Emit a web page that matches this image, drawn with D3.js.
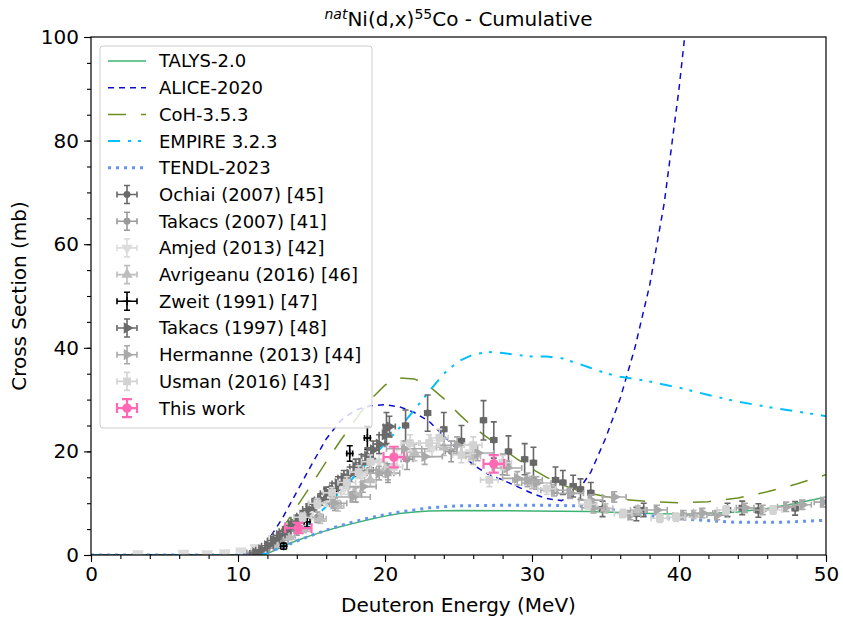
<!DOCTYPE html>
<html>
<head>
<meta charset="utf-8">
<script src="https://cdn.jsdelivr.net/npm/d3@7"></script>
<style>
  body { margin: 0; background: #fff; }
  svg { font-family: "DejaVu Sans", sans-serif; }
</style>
</head>
<body>
<svg id="chart"></svg>
<script>
// model curves: [energy (MeV), cross section (mb)]
var talys = [[0,0],[11,0],[12,0.3],[12.5,0.9],[13,1.6],[14,2.8],[15,3.8],[16,4.7],[17,5.5],[18,6.2],[19,6.9],[20,7.5],[21,8.0],[22,8.3],[23,8.5],[25,8.6],[30,8.5],[34,8.4],[36,8.2],[38,8.0],[40,7.9],[42,8.0],[44,8.3],[46,9.0],[48,10.0],[50,11.2]];
var alice = [[0,0],[10,0],[11,0.6],[12,2.6],[13,7.0],[14,12.2],[15,17.4],[16,22.4],[17,26.0],[18,28.0],[19,28.8],[20,29.0],[21,28.6],[22,27.5],[23,25.8],[24,23.0],[25,20.2],[26,17.4],[27,15.6],[28,14.5],[29,13.2],[30,11.9],[31,10.9],[32,10.5],[33,11.8],[34,16.0],[35,22.5],[36,30.2],[37,40.0],[38,52.0],[39,68.0],[40,90.0],[41,116.0]];
var coh = [[0,0],[11,0],[11.5,0.5],[12,1.6],[13,5.0],[14,9.3],[15,13.6],[16,18.0],[17,22.2],[18,26.2],[19,30.0],[20,32.8],[21,34.2],[22,34.0],[23,32.6],[24,30.2],[25,27.3],[26,24.7],[27,22.6],[28,20.5],[29,18.5],[30,16.6],[31,15.0],[32,13.6],[33,12.6],[34,11.9],[35,11.3],[36,10.8],[38,10.3],[40,10.1],[42,10.3],[44,11.0],[46,12.2],[48,13.7],[50,15.5]];
var empire = [[0,0],[11,0],[12,0.3],[13,1.8],[14,4.0],[15,6.5],[16,9.4],[17,12.4],[18,15.4],[19,18.4],[20,21.5],[21,24.6],[22,28.0],[23,31.6],[24,35.0],[25,37.4],[26,38.7],[27,39.2],[28,39.0],[29,38.6],[30,38.3],[31,38.3],[32,38.0],[33,37.1],[34,36.1],[35,35.1],[36,34.4],[38,33.5],[40,32.3],[42,30.9],[44,29.6],[46,28.6],[48,27.7],[50,26.8]];
var tendl = [[0,0],[10,0],[11,0.1],[12,0.5],[13,1.5],[14,2.7],[15,3.8],[16,4.8],[17,5.7],[18,6.5],[19,7.2],[20,7.8],[21,8.3],[22,8.7],[23,9.1],[25,9.5],[28,9.6],[31,9.6],[33,9.5],[35,9.0],[37,8.0],[39,7.2],[41,6.8],[44,6.3],[47,6.3],[50,6.7]];

// measurements: [energy, cross section, energy error, cross section error]
var ochiai = [[19.0,16.4,0.2,2.2],[20.1,24.5,0.2,3.0],[21.4,25.0,0.2,3.0],[22.9,27.4,0.2,3.5],[24.0,24.3,0.2,3.2],[25.2,22.0,0.2,3.0],[26.7,26.0,0.2,3.8],[27.4,22.2,0.2,3.5],[28.4,20.0,0.2,3.0],[29.5,18.5,0.2,3.0],[30.1,17.8,0.2,3.0],[31.6,14.5,0.2,2.5],[32.1,14.0,0.2,2.3],[32.8,13.3,0.2,2.1],[33.3,12.7,0.2,2.0],[34.0,12.0,0.2,2.0],[34.8,8.9,0.2,1.5],[37.1,7.9,0.2,1.3],[37.6,8.7,0.2,1.3],[43.3,8.7,0.2,1.3],[44.3,9.1,0.2,1.3],[45.4,8.6,0.2,1.3],[47.9,9.0,0.2,1.3]];
var takacs2007 = [[11.0,0.5,0.4,0.3],[12.0,1.3,0.4,0.4],[13.0,2.9,0.4,0.6],[14.0,4.6,0.4,0.8],[15.4,7.3,0.4,1.0],[16.6,9.8,0.4,1.2],[18.0,11.6,0.4,1.4],[19.0,16.4,0.4,1.8],[20.2,15.8,0.4,1.8],[21.5,18.5,0.4,2.0],[24.5,20.0,0.4,2.0],[28.0,17.5,0.5,2.0]];
var amjed = [[3.2,0.3,0.3,0.1],[6.3,0.4,0.3,0.1],[7.9,0.3,0.3,0.1],[9.1,0.5,0.3,0.1],[10.2,0.8,0.3,0.2],[11.2,1.5,0.3,0.3],[12.4,3.2,0.3,0.4],[13.6,5.6,0.3,0.6],[14.8,8.0,0.3,0.8],[16.0,10.4,0.3,1.0],[17.2,12.8,0.3,1.1],[18.4,15.4,0.3,1.3],[19.6,18.0,0.3,1.5],[20.8,18.8,0.3,1.5],[23.2,20.5,0.3,1.6],[25.8,19.8,0.3,1.6]];
var avrigeanu = [[12.5,2.0,0.4,0.5],[13.5,3.5,0.4,0.6],[14.5,5.0,0.4,0.7],[15.6,7.0,0.4,0.9],[16.8,9.5,0.4,1.0],[17.9,12.0,0.4,1.1],[19.0,14.5,0.4,1.3],[20.0,16.5,0.4,1.4],[22.0,19.8,0.5,1.6],[24.0,20.8,0.5,1.6],[26.0,19.0,0.5,1.5],[30.0,14.0,0.5,1.2],[35.0,9.0,0.5,0.9],[37.2,8.7,0.5,0.8],[41.0,7.8,0.5,0.8]];
var zweit = [[13.1,1.7,0.2,0.6],[14.7,6.4,0.2,1.0],[16.3,12.3,0.4,0.8],[17.6,19.6,0.2,1.5],[18.8,22.6,0.2,2.2]];
var takacs1997 = [[11.2,0.4,0.4,0.3],[11.6,1.0,0.4,0.4],[12.0,1.8,0.4,0.5],[12.4,2.8,0.4,0.6],[12.8,3.8,0.4,0.7],[13.2,4.6,0.4,0.7],[13.6,5.7,0.4,0.8],[14.0,6.8,0.4,0.9],[14.4,7.6,0.4,1.0],[14.8,8.9,0.4,1.0],[15.2,9.8,0.4,1.1],[15.6,10.7,0.4,1.1],[16.0,11.9,0.4,1.2],[16.4,12.6,0.4,1.3],[16.8,13.8,0.4,1.3],[17.2,14.9,0.4,1.4],[17.6,15.6,0.4,1.4],[18.0,17.0,0.4,1.5],[18.4,17.8,0.4,1.6],[18.8,19.1,0.4,1.6],[19.2,20.3,0.4,1.7],[19.6,21.4,0.4,1.8],[20.0,23.2,0.4,1.9],[20.3,24.8,0.4,2.0]];
var hermanne = [[16.5,10.0,0.9,1.0],[17.8,11.2,1.2,1.0],[18.5,13.2,0.9,1.1],[19.6,15.8,0.8,1.3],[20.2,15.8,0.8,1.3],[21.3,20.5,1.2,1.5],[22.7,19.0,1.2,1.5],[24.9,21.2,1.2,1.6],[26.3,19.7,1.1,1.5],[28.3,16.8,1.0,1.4],[29.0,14.8,1.0,1.3],[29.7,14.5,1.0,1.3],[30.3,13.9,1.0,1.2],[31.5,12.5,0.9,1.1],[32.6,11.9,0.9,1.0],[34.0,10.6,0.8,1.0],[34.2,9.1,0.8,1.0],[35.6,11.2,0.8,1.0],[36.7,7.7,0.7,0.9],[38.5,8.7,0.7,0.9],[40.3,7.7,0.7,0.9],[41.6,8.1,0.7,0.9],[42.6,7.7,0.7,0.9],[44.5,9.1,0.6,0.9],[45.7,8.7,0.6,0.9],[47.3,9.3,0.6,0.9],[48.4,9.7,0.6,0.9],[49.8,10.2,0.6,0.9]];
var usman = [[14.4,7.3,0.6,0.8],[15.4,10.0,0.6,0.9],[16.4,12.0,0.6,1.0],[17.4,14.0,0.6,1.1],[18.2,16.0,0.6,1.2],[19.0,18.0,0.6,1.3],[20.6,17.0,0.6,1.4],[21.7,21.6,0.6,1.6],[23.0,21.6,0.6,1.6],[23.7,22.6,0.6,1.7],[25.2,19.3,0.6,1.5],[26.0,21.2,0.6,1.6],[27.1,14.5,0.6,1.3],[28.0,17.8,0.6,1.4],[31.0,12.8,0.6,1.1],[33.8,9.8,0.6,0.9],[36.2,8.0,0.6,0.8],[38.7,7.1,0.6,0.8],[39.8,7.3,0.6,0.8],[43.2,8.7,0.6,0.8],[46.4,8.7,0.6,0.8]];
var thisWork = [[14.1,5.2,0.9,1.0],[20.6,18.9,0.7,2.0],[27.4,17.6,0.7,1.7]];

var xTicks = [0,10,20,30,40,50];
var yTicks = [0,20,40,60,80,100];

// set the dimensions and margins of the graph
var margin = {top: 37, right: 17, bottom: 67, left: 91},
    width = 843 - margin.left - margin.right,
    height = 622 - margin.top - margin.bottom;

var root = d3.select("#chart")
    .attr("width", 843)
    .attr("height", 622);

var svg = root.append("g")
    .attr("transform", "translate(" + margin.left + "," + margin.top + ")");

var x = d3.scaleLinear().domain([0, 50]).range([0, width]);
var y = d3.scaleLinear().domain([0, 100]).range([height, 0]);

svg.append("clipPath").attr("id", "clip")
  .append("rect").attr("width", width).attr("height", height);

// minor ticks
svg.append("g")
  .attr("transform", "translate(0," + height + ")")
  .call(d3.axisBottom(x).tickValues(d3.range(0, 51, 2)).tickSize(4).tickFormat(""));
svg.append("g")
  .call(d3.axisLeft(y).tickValues(d3.range(0, 101, 5)).tickSize(4).tickFormat(""));

// major ticks
var xAxis = svg.append("g")
  .attr("transform", "translate(0," + height + ")")
  .call(d3.axisBottom(x).tickValues(xTicks).tickSize(7).tickPadding(5));
var yAxis = svg.append("g")
  .call(d3.axisLeft(y).tickValues(yTicks).tickSize(7).tickPadding(5));

svg.selectAll(".domain").remove();
svg.selectAll(".tick line").attr("stroke", "#000").attr("stroke-width", 1.1);
svg.selectAll(".tick text").attr("font-size", "20px").attr("fill", "#000")
  .attr("font-family", "DejaVu Sans");

// model lines
var line = d3.line()
  .x(function(d) { return x(d[0]); })
  .y(function(d) { return y(d[1]); });

var models = [
  {name: "TALYS-2.0", data: talys, color: "#3cb371", dash: null, w: 1.4},
  {name: "ALICE-2020", data: alice, color: "#0c0cd0", dash: "6,5", w: 1.5},
  {name: "CoH-3.5.3", data: coh, color: "#6b8e23", dash: "18,15", w: 1.5},
  {name: "EMPIRE 3.2.3", data: empire, color: "#00bfff", dash: "12,8,3,7,3,8", w: 2},
  {name: "TENDL-2023", data: tendl, color: "#6495ed", dash: "3,5", w: 3}
];

var lines = svg.append("g").attr("clip-path", "url(#clip)");
models.forEach(function(m) {
  lines.append("path")
    .datum(m.data)
    .attr("fill", "none")
    .attr("stroke", m.color)
    .attr("stroke-width", m.w)
    .attr("stroke-dasharray", m.dash)
    .attr("d", line);
});

// experimental series
var series = [
  {name: "Ochiai (2007) [45]", data: ochiai, color: "#686868", marker: "circle"},
  {name: "Takacs (2007) [41]", data: takacs2007, color: "#9a9a9a", marker: "circle"},
  {name: "Amjed (2013) [42]", data: amjed, color: "#dcdcdc", marker: "down"},
  {name: "Avrigeanu (2016) [46]", data: avrigeanu, color: "#bdbdbd", marker: "up"},
  {name: "Zweit (1991) [47]", data: zweit, color: "#000000", marker: "plus"},
  {name: "Takacs (1997) [48]", data: takacs1997, color: "#6a6a6a", marker: "right"},
  {name: "Hermanne (2013) [44]", data: hermanne, color: "#a9a9a9", marker: "right"},
  {name: "Usman (2016) [43]", data: usman, color: "#d3d3d3", marker: "square"},
  {name: "This work", data: thisWork, color: "#ff69b4", marker: "circle", big: true}
];

function drawMarker(g, s, px, py) {
  var sym;
  if (s.marker == "circle") sym = d3.symbol().type(d3.symbolCircle).size(s.big ? 70 : 38);
  else if (s.marker == "square") sym = d3.symbol().type(d3.symbolSquare).size(60);
  else if (s.marker == "plus") {
    g.append("path").attr("d", "M" + (px - 4) + "," + py + "H" + (px + 4) + "M" + px + "," + (py - 4) + "V" + (py + 4))
      .attr("stroke", s.color).attr("stroke-width", 1.5);
    return;
  }
  else sym = d3.symbol().type(d3.symbolTriangle).size(55);
  var rot = {up: 0, down: 180, right: 90}[s.marker] || 0;
  g.append("path")
    .attr("d", sym())
    .attr("transform", "translate(" + px + "," + py + ") rotate(" + rot + ")")
    .attr("fill", s.color);
}

function drawErr(g, s, px, py, x0, x1, y0, y1) {
  var cap = s.big ? 5 : 3;
  var w = s.big ? 2.2 : 1.6;
  var p = "M" + x0 + "," + py + "H" + x1 +
          "M" + px + "," + y0 + "V" + y1 +
          "M" + (px - cap) + "," + y0 + "H" + (px + cap) +
          "M" + (px - cap) + "," + y1 + "H" + (px + cap) +
          "M" + x0 + "," + (py - cap) + "V" + (py + cap) +
          "M" + x1 + "," + (py - cap) + "V" + (py + cap);
  g.append("path").attr("d", p).attr("stroke", s.color).attr("stroke-width", w).attr("fill", "none");
}

var pts = svg.append("g").attr("clip-path", "url(#clip)");
series.forEach(function(s) {
  var g = pts.append("g");
  s.data.forEach(function(d) {
    var px = x(d[0]), py = y(d[1]);
    drawErr(g, s, px, py, x(d[0] - d[2]), x(d[0] + d[2]), y(d[1] + d[3]), y(d[1] - d[3]));
    drawMarker(g, s, px, py);
  });
});

// frame
svg.append("rect")
  .attr("width", width).attr("height", height)
  .attr("fill", "none").attr("stroke", "#000").attr("stroke-width", 1.2);

// legend
var leg = svg.append("g").attr("transform", "translate(9,9)");
leg.append("rect")
  .attr("width", 272).attr("height", 382).attr("rx", 3)
  .attr("fill", "#fff").attr("fill-opacity", 0.8)
  .attr("stroke", "#cccccc").attr("stroke-width", 1);

var rowH = 26.7;
models.forEach(function(m, i) {
  var cy = 15 + i * rowH;
  leg.append("line")
    .attr("x1", 8).attr("x2", 46).attr("y1", cy).attr("y2", cy)
    .attr("stroke", m.color).attr("stroke-width", m.w)
    .attr("stroke-dasharray", m.dash);
  leg.append("text").attr("x", 59).attr("y", cy).attr("dy", "0.36em")
    .attr("font-size", "18px").text(m.name);
});
series.forEach(function(s, j) {
  var cy = 15 + (j + models.length) * rowH;
  var g = leg.append("g");
  drawErr(g, s, 27, cy, 17, 37, cy - 9, cy + 9);
  drawMarker(g, s, 27, cy);
  leg.append("text").attr("x", 59).attr("y", cy).attr("dy", "0.36em")
    .attr("font-size", "18px").text(s.name);
});

// labels
root.append("text")
  .attr("x", margin.left + width / 2).attr("y", 612)
  .attr("text-anchor", "middle").attr("font-size", "20px")
  .text("Deuteron Energy (MeV)");

root.append("text")
  .attr("transform", "translate(26," + (margin.top + height / 2) + ") rotate(-90)")
  .attr("text-anchor", "middle").attr("font-size", "20px")
  .text("Cross Section (mb)");

var title = root.append("text")
  .attr("x", margin.left + width / 2).attr("y", 26)
  .attr("text-anchor", "middle").attr("font-size", "20px");
title.append("tspan").attr("font-style", "italic").attr("font-size", "14px").attr("dy", "-7").text("nat");
title.append("tspan").attr("dy", "7").text("Ni(d,x)");
title.append("tspan").attr("font-size", "14px").attr("dy", "-7").text("55");
title.append("tspan").attr("dy", "7").text("Co - Cumulative");
</script>
</body>
</html>
